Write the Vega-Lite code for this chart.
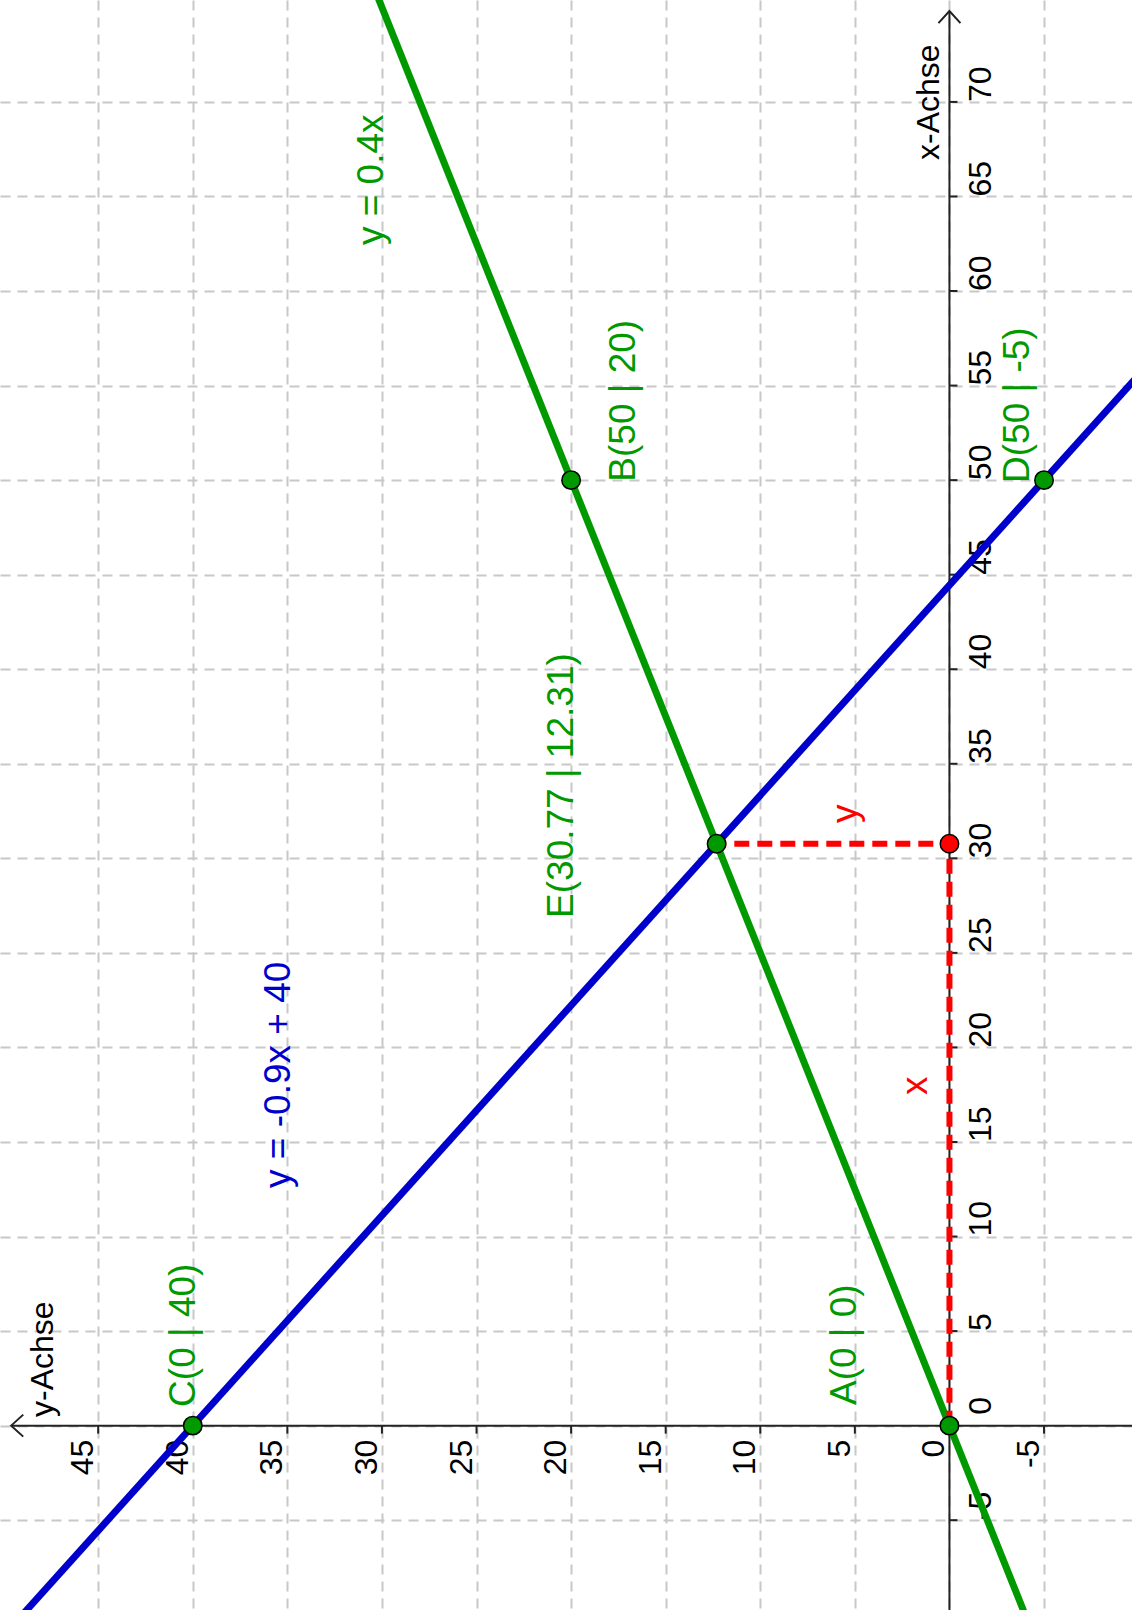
{
  "$schema": "https://vega.github.io/schema/vega-lite/v6.json",
  "width": 1132,
  "height": 1610,
  "autosize": {"type": "fit", "contains": "padding"},
  "padding": 0,
  "background": "white",
  "config": {"view": {"stroke": null}, "font": "Liberation Sans"},
  "datasets": {
    "xticks": [
      {"xv": -5, "yv": 0, "t": "-5"}, {"xv": 0, "yv": 0, "t": "0"}, {"xv": 5, "yv": 0, "t": "5"}, {"xv": 10, "yv": 0, "t": "10"},
      {"xv": 15, "yv": 0, "t": "15"}, {"xv": 20, "yv": 0, "t": "20"}, {"xv": 25, "yv": 0, "t": "25"}, {"xv": 30, "yv": 0, "t": "30"},
      {"xv": 35, "yv": 0, "t": "35"}, {"xv": 40, "yv": 0, "t": "40"}, {"xv": 45, "yv": 0, "t": "45"}, {"xv": 50, "yv": 0, "t": "50"},
      {"xv": 55, "yv": 0, "t": "55"}, {"xv": 60, "yv": 0, "t": "60"}, {"xv": 65, "yv": 0, "t": "65"}, {"xv": 70, "yv": 0, "t": "70"}
    ],
    "yticks": [
      {"yv": -5, "xv": 0, "t": "-5"}, {"yv": 0, "xv": 0, "t": "0"}, {"yv": 5, "xv": 0, "t": "5"}, {"yv": 10, "xv": 0, "t": "10"},
      {"yv": 15, "xv": 0, "t": "15"}, {"yv": 20, "xv": 0, "t": "20"}, {"yv": 25, "xv": 0, "t": "25"}, {"yv": 30, "xv": 0, "t": "30"},
      {"yv": 35, "xv": 0, "t": "35"}, {"yv": 40, "xv": 0, "t": "40"}, {"yv": 45, "xv": 0, "t": "45"}
    ],
    "axislines": [
      {"a": "x-Achse", "xv": -10, "yv": 0},
      {"a": "x-Achse", "xv": 74.81, "yv": 0},
      {"a": "y-Achse", "xv": 0, "yv": 49.6},
      {"a": "y-Achse", "xv": 0, "yv": -10}
    ],
    "arrows": [
      {"a": "x-Achse", "xv": 74.81, "yv": 0},
      {"a": "y-Achse", "xv": 0, "yv": 49.6}
    ],
    "lines": [
      {"name": "green", "xv": -10, "yv": -4},
      {"name": "green", "xv": 76, "yv": 30.4},
      {"name": "blue", "xv": -10, "yv": 49},
      {"name": "blue", "xv": 56, "yv": -10.4}
    ],
    "guide": [
      {"i": 1, "xv": 0, "yv": 0},
      {"i": 2, "xv": 30.77, "yv": 0},
      {"i": 3, "xv": 30.77, "yv": 12.31}
    ],
    "points": [
      {"name": "A", "xv": 0, "yv": 0, "c": "g"},
      {"name": "B", "xv": 50, "yv": 20, "c": "g"},
      {"name": "C", "xv": 0, "yv": 40, "c": "g"},
      {"name": "D", "xv": 50, "yv": -5, "c": "g"},
      {"name": "E", "xv": 30.77, "yv": 12.31, "c": "g"},
      {"name": "F", "xv": 30.77, "yv": 0, "c": "r"}
    ],
    "labels": [
      {"t": "A(0 | 0)", "xv": 1.09, "yv": 4.94, "c": "g"},
      {"t": "B(50 | 20)", "xv": 49.92, "yv": 16.62, "c": "g"},
      {"t": "C(0 | 40)", "xv": 0.99, "yv": 39.88, "c": "g"},
      {"t": "D(50 | -5)", "xv": 49.85, "yv": -4.2, "c": "g"},
      {"t": "E(30.77 | 12.31)", "xv": 26.85, "yv": 19.9, "c": "g"},
      {"t": "y = 0.4x", "xv": 62.43, "yv": 29.94, "c": "g"},
      {"t": "y = -0.9x + 40", "xv": 12.57, "yv": 34.86, "c": "b"},
      {"t": "x", "xv": 17.49, "yv": 1.19, "c": "r"},
      {"t": "y", "xv": 31.87, "yv": 4.89, "c": "r"}
    ],
    "titles": [
      {"t": "x-Achse", "xv": 66.93, "yv": 0.55},
      {"t": "y-Achse", "xv": 0.46, "yv": 47.4}
    ]
  },
  "encoding": {
    "x": {
      "field": "yv", "type": "quantitative",
      "scale": {"domain": [-9.65, 50.19], "reverse": true, "nice": false, "zero": false},
      "axis": {
        "values": [-5, 0, 5, 10, 15, 20, 25, 30, 35, 40, 45],
        "grid": true, "gridColor": "#c8c8c8", "gridDash": [10, 7], "gridWidth": 2,
        "labels": false, "ticks": false, "domain": false, "title": null
      }
    },
    "y": {
      "field": "xv", "type": "quantitative",
      "scale": {"domain": [-9.75, 75.39], "nice": false, "zero": false},
      "axis": {
        "values": [-5, 0, 5, 10, 15, 20, 25, 30, 35, 40, 45, 50, 55, 60, 65, 70],
        "grid": true, "gridColor": "#c8c8c8", "gridDash": [10, 7], "gridWidth": 2,
        "labels": false, "ticks": false, "domain": false, "title": null
      }
    }
  },
  "layer": [
    {
      "data": {"name": "axislines"},
      "mark": {"type": "line", "color": "#222222", "strokeWidth": 2, "clip": true},
      "encoding": {
        "detail": {"field": "a", "type": "nominal"}
      }
    },
    {
      "data": {"name": "arrows"},
      "mark": {"type": "point", "size": 484, "filled": false, "stroke": "#222222", "strokeWidth": 2, "opacity": 1},
      "encoding": {
        "shape": {"field": "a", "type": "nominal", "scale": {"domain": ["x-Achse", "y-Achse"], "range": ["M-1,1.1L0,0L1,1.1", "M1.1,-1L0,0L1.1,1"]}, "legend": null}
      }
    },
    {
      "data": {"name": "xticks"},
      "mark": {"type": "point", "shape": "M0,0L1,0", "size": 256, "filled": false, "stroke": "#222222", "strokeWidth": 2, "opacity": 1}
    },
    {
      "data": {"name": "yticks"},
      "mark": {"type": "point", "shape": "M0,0L0,1", "size": 256, "filled": false, "stroke": "#222222", "strokeWidth": 2, "opacity": 1}
    },
    {
      "data": {"name": "xticks"},
      "transform": [{"filter": "datum.xv != 0"}],
      "mark": {"type": "text", "angle": 270, "align": "left", "baseline": "alphabetic", "dx": 0, "dy": 42, "fontSize": 32, "color": "#000000"},
      "encoding": {
        "text": {"field": "t", "type": "nominal"}
      }
    },
    {
      "data": {"name": "xticks"},
      "transform": [{"filter": "datum.xv == 0"}],
      "mark": {"type": "text", "angle": 270, "align": "left", "baseline": "alphabetic", "dx": 11, "dy": 42, "fontSize": 32, "color": "#000000"},
      "encoding": {
        "text": {"field": "t", "type": "nominal"}
      }
    },
    {
      "data": {"name": "yticks"},
      "mark": {"type": "text", "angle": 270, "align": "right", "baseline": "alphabetic", "dx": -14, "dy": -5, "fontSize": 32, "color": "#000000"},
      "encoding": {
        "text": {"field": "t", "type": "nominal"}
      }
    },
    {
      "data": {"name": "titles"},
      "mark": {"type": "text", "angle": 270, "align": "left", "baseline": "alphabetic", "fontSize": 32, "color": "#000000"},
      "encoding": {
        "text": {"field": "t", "type": "nominal"}
      }
    },
    {
      "data": {"name": "lines"},
      "transform": [{"filter": "datum.name == 'green'"}],
      "mark": {"type": "line", "color": "#009900", "strokeWidth": 7, "clip": true},
      "encoding": {}
    },
    {
      "data": {"name": "lines"},
      "transform": [{"filter": "datum.name == 'blue'"}],
      "mark": {"type": "line", "color": "#0000cc", "strokeWidth": 7, "clip": true},
      "encoding": {}
    },
    {
      "data": {"name": "guide"},
      "mark": {"type": "line", "color": "#ff0000", "strokeWidth": 6, "strokeDash": [15, 8], "clip": true},
      "encoding": {
        "order": {"field": "i", "type": "quantitative"}
      }
    },
    {
      "data": {"name": "points"},
      "mark": {"type": "point", "filled": true, "size": 340, "stroke": "#000000", "strokeWidth": 1.5, "opacity": 1},
      "encoding": {
        "fill": {"field": "c", "type": "nominal", "scale": {"domain": ["g", "r"], "range": ["#009900", "#ff0000"]}, "legend": null}
      }
    },
    {
      "data": {"name": "labels"},
      "mark": {"type": "text", "angle": 270, "align": "left", "baseline": "alphabetic", "fontSize": 37},
      "encoding": {
        "text": {"field": "t", "type": "nominal"},
        "color": {"field": "c", "type": "nominal", "scale": {"domain": ["g", "b", "r"], "range": ["#009900", "#0000cc", "#ff0000"]}, "legend": null}
      }
    }
  ]
}
